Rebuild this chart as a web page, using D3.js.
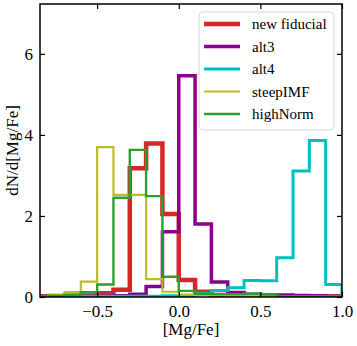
<!DOCTYPE html>
<html>
<head>
<meta charset="utf-8">
<script src="https://cdn.jsdelivr.net/npm/d3@7"></script>
<style>
  body { margin: 0; background: #fff; }
  svg { display: block; }
</style>
</head>
<body>
<div id="chart"></div>
<script>
// Histogram bin edges, [Mg/Fe]
const binEdges = [-0.9, -0.8, -0.7, -0.6, -0.5, -0.4, -0.3, -0.2, -0.1, 0.0, 0.1,
  0.2, 0.3, 0.4, 0.5, 0.6, 0.7, 0.8, 0.9, 1.0, 1.1];

// Heights per bin (dN/d[Mg/Fe])
const newFiducial = [0.02, 0.02, 0.03, 0.04, 0.09, 0.18, 3.18, 3.79, 2.05, 0.42,
  0.13, 0.05, 0.03, 0.02, 0.01, 0.01, 0.01, 0.01, 0.01, 0.0];
const alt3 = [0.02, 0.02, 0.02, 0.02, 0.02, 0.03, 0.07, 0.26, 1.61, 5.46,
  1.80, 0.37, 0.11, 0.07, 0.05, 0.05, 0.04, 0.03, 0.02, 0.0];
const alt4 = [0.02, 0.02, 0.02, 0.02, 0.02, 0.02, 0.02, 0.02, 0.03, 0.04,
  0.09, 0.16, 0.23, 0.41, 0.40, 0.97, 3.11, 3.86, 0.31, 0.0];
const steepIMF = [0.02, 0.06, 0.12, 0.38, 3.70, 2.52, 2.52, 0.44, 0.13, 0.06,
  0.05, 0.04, 0.03, 0.03, 0.03, 0.02, 0.01, 0.01, 0.01, 0.0];
const highNorm = [0.02, 0.03, 0.05, 0.12, 0.31, 2.45, 3.63, 2.49, 0.50, 0.15,
  0.08, 0.07, 0.07, 0.08, 0.06, 0.02, 0.01, 0.01, 0.01, 0.0];

const seriesNames = ["new fiducial", "alt3", "alt4", "steepIMF", "highNorm"];
const seriesValues = [newFiducial, alt3, alt4, steepIMF, highNorm];
const seriesColors = ["#d62728", "#8b008b", "#00bfbf", "#bcbd22", "#2ca02c"];
const seriesWidths = [4.5, 3.5, 3, 2.2, 2.4];

const xTicks = [-0.5, 0.0, 0.5, 1.0];
const yTicks = [0, 2, 4, 6];

const W = 357, H = 346;
const plot = { left: 40, right: 342, top: 4, bottom: 297 };
const serif = "\"Liberation Serif\"";

const x = d3.scaleLinear().domain([-0.85, 1.0]).range([plot.left, plot.right]);
const y = d3.scaleLinear().domain([0, 7.23]).range([plot.bottom, plot.top]);

const svg = d3.select("#chart").append("svg")
  .attr("width", W)
  .attr("height", H);

svg.append("defs").append("clipPath")
  .attr("id", "clip")
  .append("rect")
  .attr("x", plot.left)
  .attr("y", plot.top)
  .attr("width", plot.right - plot.left)
  .attr("height", plot.bottom - plot.top);

// step outline like histtype='step'
function stepPoints(vals) {
  const pts = [[binEdges[0], 0]];
  vals.forEach((v, i) => {
    pts.push([binEdges[i], v]);
    pts.push([binEdges[i + 1], v]);
  });
  pts.push([binEdges[binEdges.length - 1], 0]);
  return pts;
}

const line = d3.line()
  .x(d => x(d[0]))
  .y(d => y(d[1]));

const g = svg.append("g").attr("clip-path", "url(#clip)");
seriesValues.forEach((vals, i) => {
  g.append("path")
    .datum(stepPoints(vals))
    .attr("fill", "none")
    .attr("stroke", seriesColors[i])
    .attr("stroke-width", seriesWidths[i])
    .attr("stroke-linejoin", "miter")
    .attr("d", line);
});

// axes, ticks pointing inward on all sides
const tickLen = 5;
const fmt = d => d3.format(".1f")(d).replace("-", "\u2212");

svg.append("g")
  .attr("transform", `translate(0,${plot.bottom})`)
  .call(d3.axisBottom(x).tickValues(xTicks).tickSize(-tickLen).tickPadding(8).tickFormat(fmt))
  .call(a => a.select(".domain").remove());

svg.append("g")
  .attr("transform", `translate(0,${plot.top})`)
  .call(d3.axisTop(x).tickValues(xTicks).tickSize(-tickLen).tickFormat(""))
  .call(a => a.select(".domain").remove());

svg.append("g")
  .attr("transform", `translate(${plot.left},0)`)
  .call(d3.axisLeft(y).tickValues(yTicks).tickSize(-tickLen).tickPadding(7).tickFormat(d3.format("d")))
  .call(a => a.select(".domain").remove());

svg.append("g")
  .attr("transform", `translate(${plot.right},0)`)
  .call(d3.axisRight(y).tickValues(yTicks).tickSize(-tickLen).tickFormat(""))
  .call(a => a.select(".domain").remove());

svg.selectAll(".tick text")
  .style("font-family", serif)
  .style("font-size", "17px")
  .attr("fill", "#000");
svg.selectAll(".tick line").attr("stroke", "#000").attr("stroke-width", 1.2);

svg.append("rect")
  .attr("x", plot.left)
  .attr("y", plot.top)
  .attr("width", plot.right - plot.left)
  .attr("height", plot.bottom - plot.top)
  .attr("fill", "none")
  .attr("stroke", "#000")
  .attr("stroke-width", 1.5);

// axis labels
svg.append("text")
  .attr("x", (plot.left + plot.right) / 2)
  .attr("y", 335)
  .attr("text-anchor", "middle")
  .style("font-family", serif)
  .style("font-size", "17px")
  .text("[Mg/Fe]");

svg.append("text")
  .attr("transform", `translate(18,${(plot.top + plot.bottom) / 2}) rotate(-90)`)
  .attr("text-anchor", "middle")
  .style("font-family", serif)
  .style("font-size", "17px")
  .text("dN/d[Mg/Fe]");

// legend
const legend = svg.append("g");
legend.append("rect")
  .attr("x", 199)
  .attr("y", 12)
  .attr("width", 135)
  .attr("height", 118)
  .attr("rx", 4)
  .attr("fill", "rgba(255,255,255,0.8)")
  .attr("stroke", "#d8d8d8")
  .attr("stroke-width", 1);

seriesNames.forEach((name, i) => {
  const ly = 24 + i * 22.5;
  legend.append("line")
    .attr("x1", 204).attr("x2", 240)
    .attr("y1", ly).attr("y2", ly)
    .attr("stroke", seriesColors[i])
    .attr("stroke-width", seriesWidths[i]);
  legend.append("text")
    .attr("x", 252)
    .attr("y", ly + 5)
    .style("font-family", serif)
    .style("font-size", "15px")
    .text(name);
});
</script>
</body>
</html>
